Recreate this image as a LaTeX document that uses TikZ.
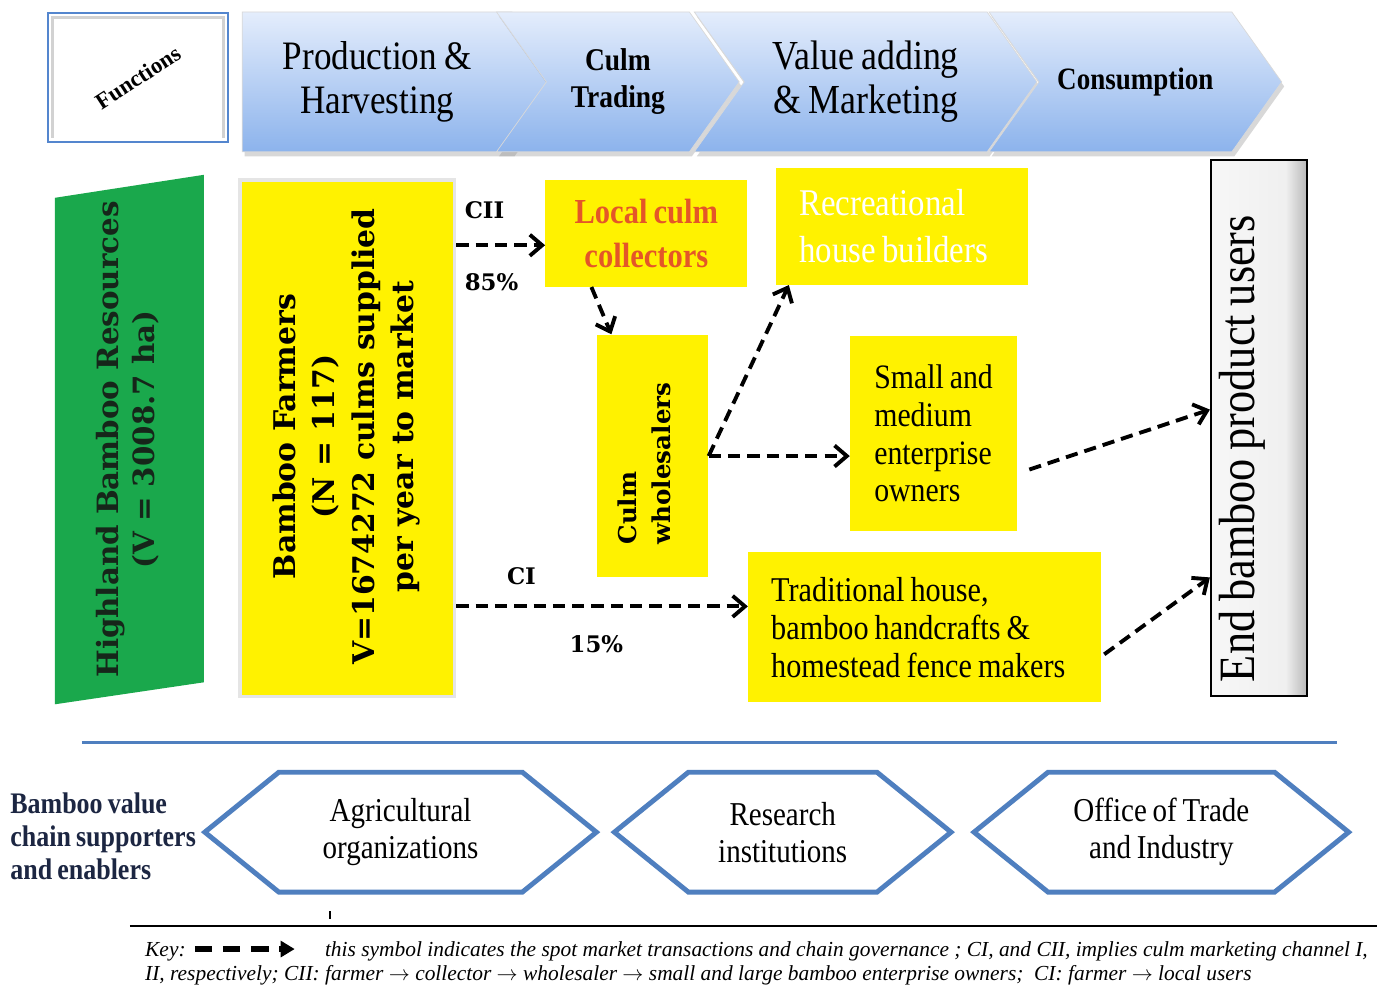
\documentclass[tikz,border=0pt]{standalone}
\usepackage{fontspec}
\setmainfont{Liberation Serif}
\newfontfamily\slimserif[FakeStretch=0.87, WordSpace=0.8]{Liberation Serif}
\newfontfamily\wideserif{DejaVu Serif}
\usepackage{tikz}
\usetikzlibrary{arrows.meta,shapes.symbols,shadows,positioning}

\definecolor{chevtop}{RGB}{228,237,252}
\definecolor{chevbottom}{RGB}{140,179,236}
\definecolor{frameblue}{RGB}{84,134,206}
\definecolor{bamboogreen}{RGB}{26,168,76}
\definecolor{hexblue}{RGB}{79,127,191}
\definecolor{collectred}{RGB}{228,86,40}
\definecolor{enablernavy}{RGB}{28,38,66}
\definecolor{darkgreentext}{RGB}{22,38,26}
\pgfdeclarehorizontalshading{usershade}{100bp}{color(0bp)=(gray!6); color(25bp)=(gray!6); color(64bp)=(gray!12); color(75bp)=(gray!55); color(100bp)=(gray!55)}

\newcommand{\setfs}[2]{\fontsize{#1}{#2}\selectfont}

\begin{document}
\begin{tikzpicture}[x=0.2mm, y=-0.2mm, >={Straight Barb[length=7pt,width=12pt]}] % 1 unit = 1 px, y grows downwards

	\tikzstyle{chevron} = [signal, signal to=east, signal pointer angle=109, draw=white!70!gray, top color=chevtop, bottom color=chevbottom, minimum height=140*0.2mm, inner sep=0pt, align=center, drop shadow={shadow xshift=0.5mm, shadow yshift=-0.9mm, opacity=0.3}]
	\tikzstyle{yellowbox} = [rectangle, fill=yellow, inner sep=0pt, align=center]
	\tikzstyle{enabler} = [signal, signal to=west and east, signal pointer angle=78, draw=hexblue, line width=2.8pt, fill=white, minimum height=120*0.2mm, align=center, font=\slimserif\setfs{19}{21}]
	\tikzstyle{flow} = [->, line width=2.2pt, dash pattern=on 7pt off 4pt]
	\tikzstyle{tag} = [inner sep=0pt, font=\wideserif\bfseries\setfs{13}{15}]
	\tikzstyle{keytext} = [anchor=base west, inner sep=0pt, font=\itshape\setfs{12.2}{14}]

	\fill[white] (0,0) rectangle (1378,1000);

	% functions along the chain
	\node[draw=frameblue, line width=1.3pt, fill=white, minimum width=180*0.2mm, minimum height=129*0.2mm, font=\bfseries\setfs{13}{15}] (functions) at (138,77.5) {\rotatebox{33}{Functions}};
	\draw[gray!35, line width=2pt] (52.5,138) -- (52.5,17.5) -- (223.5,17.5) -- (223.5,138);

	\node[chevron, minimum width=320*0.2mm, font=\slimserif\setfs{23}{25}] (production) at (377.5,82) {Production \&\\Harvesting};
	\node[chevron, signal from=west, minimum width=243*0.2mm, font=\slimserif\bfseries\setfs{18}{21}] (trading) at (618.5,82) {Culm\\Trading};
	\node[chevron, signal from=west, minimum width=343*0.2mm, font=\slimserif\setfs{23.5}{25}] (adding) at (866.5,82) {Value adding\\\& Marketing};
	\node[chevron, signal from=west, minimum width=293*0.2mm, font=\slimserif\bfseries\setfs{17.7}{19}] (consumption) at (1136.5,82) {Consumption};

	% resource base
	\fill[bamboogreen] (55,198) -- (204,175) -- (204,683) -- (55,705) -- cycle;
	\node[rotate=90, align=center, text=darkgreentext, font=\wideserif\bfseries\setfs{16.7}{20.5}] (resources) at (128,440) {Highland Bamboo Resources\\(V = 3008.7 ha)};

	% actors
	\node[yellowbox, draw=gray!20, line width=2pt, minimum width=215*0.2mm, minimum height=517*0.2mm] (farmers) at (347.5,438.5) {};
	\node[rotate=90, align=center, font=\wideserif\bfseries\setfs{17}{22.5}] (farmerstext) at (347,437) {Bamboo Farmers\\(N = 117)\\V=1674272 culms supplied\\per year to market};

	\node[yellowbox, text=collectred, minimum width=202*0.2mm, minimum height=107*0.2mm, font=\slimserif\bfseries\setfs{20}{25}] (collectors) at (647,233.5) {Local culm\\collectors};

	\node[yellowbox, minimum width=111*0.2mm, minimum height=243*0.2mm] (wholesalers) at (653.5,456.5) {};
	\node[rotate=90, align=left, font=\wideserif\bfseries\setfs{14}{19}] (wholesalerstext) at (645,464) {Culm\\wholesalers};

	\node[yellowbox, text=white, align=flush left, text width=206*0.2mm, inner xsep=23*0.2mm, minimum height=117*0.2mm, font=\slimserif\setfs{21.5}{27}] (recreation) at (903,226.5) {Recreational\\house builders};
	\node[yellowbox, align=left, minimum width=167*0.2mm, minimum height=196*0.2mm, font=\slimserif\setfs{19.5}{21.5}] (sme) at (934.5,434) {Small and\\medium\\enterprise\\owners};
	\node[yellowbox, align=flush left, text width=307*0.2mm, inner xsep=23*0.2mm, minimum height=150*0.2mm, font=\slimserif\setfs{19.8}{21.5}] (trad) at (925.5,628) {Traditional house,\\bamboo handcrafts \&\\homestead fence makers};

	\node[draw=black, line width=1pt, shading=usershade, minimum width=96*0.2mm, minimum height=537*0.2mm] (users) at (1260,428.5) {};
	\node[rotate=90, font=\slimserif\setfs{29}{30}] (userstext) at (1244,449) {End bamboo product users};

	% market channels
	\coordinate (cii end) at ([yshift=-2.4mm]collectors.west);
	\coordinate (ci end) at ([yshift=4.2mm]trad.west);
	\draw[flow] (farmers.east |- cii end) -- (cii end);
	\draw[flow] ([xshift=-11mm]collectors.south) -- ([xshift=-8.3mm]wholesalers.north);
	\draw[flow] (wholesalers.east) -- ([xshift=2.6mm]recreation.south west);
	\draw[flow] (wholesalers.east) -- (wholesalers.east -| sme.west);
	\draw[flow] (farmers.east |- ci end) -- (ci end);
	\draw[flow] ([shift={(2.4mm,-7.2mm)}]sme.east) -- ([yshift=3.7mm]users.west);
	\draw[flow] ([shift={(0.6mm,-5.4mm)}]trad.east) -- ([yshift=-29.9mm]users.west);

	\node[tag] (cii) at (485,210) {CII};
	\node[tag] (share85) at (492,282) {85\%};
	\node[tag] (ci) at (522,577) {CI};
	\node[tag] (share15) at (597,645) {15\%};

	% supporters and enablers
	\draw[hexblue, line width=1.8pt] (82,743) -- (1338,743);
	\node[anchor=north west, align=left, text=enablernavy, inner sep=0pt, font=\slimserif\bfseries\setfs{17}{19}] (enablers) at (10,793) {Bamboo value\\chain supporters\\and enablers};
	\node[enabler, minimum width=392*0.2mm] (agri) at (401,833) {Agricultural\\organizations};
	\node[enabler, minimum width=337*0.2mm] (research) at (783.5,833) {Research\\institutions};
	\node[enabler, minimum width=375*0.2mm] (trade) at (1162.5,833) {Office of Trade\\and Industry};

	% key
	\draw[line width=1.6pt] (130,927) -- (1378,927);
	\draw[line width=1.2pt] (330,912) -- (330,920);
	\node[keytext] (key) at (145,957) {Key:};
	\coordinate (key start) at (195,950);
	\coordinate (key end) at (295,950);
	\draw[-{Triangle[length=8pt,width=9pt]}, line width=3.4pt, dash pattern=on 10pt off 6pt] (key start) -- (key end);
	\node[keytext] (keyline1) at (325,957) {this symbol indicates the spot market transactions and chain governance ; CI, and CII, implies culm marketing channel I,};
	\node[keytext] (keyline2) at (145,981) {II, respectively; CII: farmer $\rightarrow$ collector $\rightarrow$ wholesaler $\rightarrow$ small and large bamboo enterprise owners;\ \ CI: farmer $\rightarrow$ local users};

\end{tikzpicture}
\end{document}
